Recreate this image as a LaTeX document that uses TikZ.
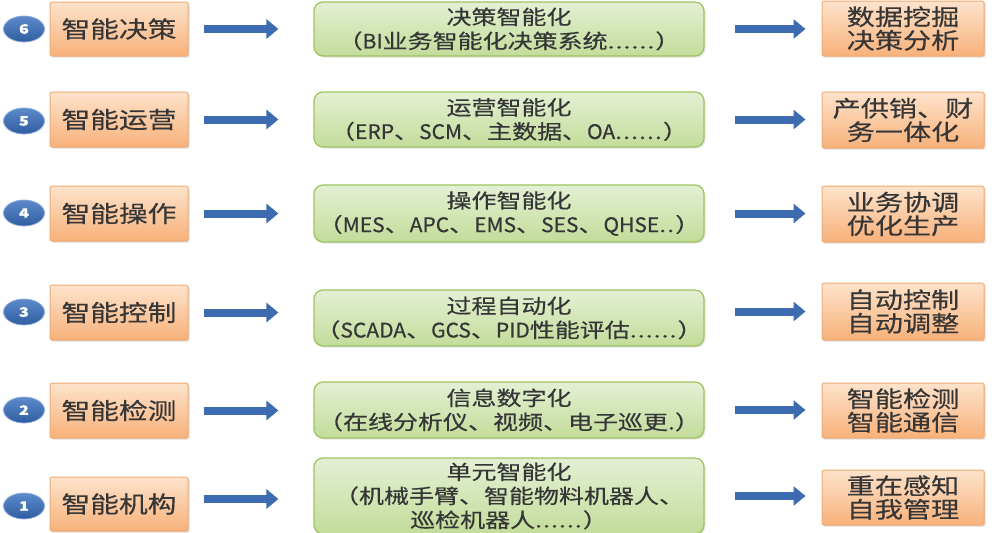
\documentclass[tikz,border=0pt]{standalone}
\usepackage{fontspec}
\setmainfont{Noto Sans CJK SC}[FakeStretch=1.25, FakeBold=0.4]
\newfontfamily\latf{Noto Sans CJK SC}[FakeStretch=1.05, FakeBold=0.6]
\newcommand\lt[1]{{\latf #1}}
\newcommand\dts[1]{\foreach \i in {1,...,#1}{.\kern1pt}}
\usetikzlibrary{arrows.meta,shadows,shapes.geometric}
\definecolor{oTop}{HTML}{FDE3CB}
\definecolor{oBot}{HTML}{F8B17A}
\definecolor{oBorder}{HTML}{EDAA72}
\definecolor{gTop}{HTML}{E4F0D4}
\definecolor{gBot}{HTML}{C3DC9A}
\definecolor{gBorder}{HTML}{9DC35E}
\definecolor{aBlue}{HTML}{3C6BB0}
\definecolor{cTop}{HTML}{5C8ACB}
\definecolor{cBot}{HTML}{2F5D9F}
\definecolor{txt}{HTML}{363636}
\begin{document}
\begin{tikzpicture}[x=1pt,y=-1pt,
  obox/.style={draw=oBorder, line width=1pt, top color=oTop, bottom color=oBot,
    rounded corners=1.5pt, inner sep=0pt, align=center, text=txt,
    drop shadow={opacity=0.25, shadow xshift=1.5pt, shadow yshift=-1.5pt}},
  lbox/.style={obox, minimum width=138pt, font={\fontsize{23}{23}\selectfont}},
  rbox/.style={obox, minimum width=162pt, font={\fontsize{22.5}{23.5}\selectfont}},
  gbox/.style={draw=gBorder, line width=1.2pt, top color=gTop, bottom color=gBot,
    rounded corners=9pt, inner sep=0pt, align=center, text=txt, minimum width=390pt,
    font={\fontsize{20}{24}\selectfont},
    drop shadow={opacity=0.2, shadow xshift=1.5pt, shadow yshift=-1.5pt}},
  num/.style={ellipse, draw=cTop!70!white, line width=0.8pt, top color=cTop, bottom color=cBot,
    minimum width=41pt, minimum height=26pt, inner sep=0pt, text=white,
    font={\fontsize{13}{13}\selectfont\bfseries}},
  arr/.style={draw=aBlue, line width=8pt, -{Triangle[length=12pt,width=19pt]}},
  larr/.style={arr, shorten <=15pt, shorten >=35pt},
  rarr/.style={arr, shorten <=30pt, shorten >=16pt}
]
\useasboundingbox (0,0) rectangle (1002,533);

% row 6
\node[num] (C6) at (24,29) {6};
\node[lbox, minimum height=54pt] (L6) at (119,29) {智能决策};
\node[gbox, minimum height=54pt] (G6) at (509,29) {决策智能化\\（\lt{BI}业务智能化决策系统\dts{6}）};
\node[rbox, minimum height=55pt] (R6) at (903,28.5) {数据挖掘\\决策分析};
% row 5
\node[num] (C5) at (24,121) {5};
\node[lbox, minimum height=55pt] (L5) at (119,119.5) {智能运营};
\node[gbox, minimum height=55pt] (G5) at (509,119.5) {运营智能化\\（\lt{ERP}、\lt{SCM}、主数据、\lt{OA}\dts{6}）};
\node[rbox, minimum height=56pt] (R5) at (903,120) {产供销、财\\务一体化};
% row 4
\node[num] (C4) at (24,213) {4};
\node[lbox, minimum height=55pt] (L4) at (119,213.5) {智能操作};
\node[gbox, minimum height=57pt] (G4) at (509,213.5) {操作智能化\\（\lt{MES}、\lt{APC}、\lt{EMS}、\lt{SES}、\lt{QHSE}\dts{2}）};
\node[rbox, minimum height=56pt] (R4) at (903,214) {业务协调\\优化生产};
% row 3
\node[num] (C3) at (24,312) {3};
\node[lbox, minimum height=55pt] (L3) at (119,312.5) {智能控制};
\node[gbox, minimum height=56pt] (G3) at (509,318) {过程自动化\\（\lt{SCADA}、\lt{GCS}、\lt{PID}性能评估\dts{6}）};
\node[rbox, minimum height=57pt] (R3) at (903,311.5) {自动控制\\自动调整};
% row 2
\node[num] (C2) at (24,410) {2};
\node[lbox, minimum height=55pt] (L2) at (119,410.5) {智能检测};
\node[gbox, minimum height=56pt] (G2) at (509,410) {信息数字化\\（在线分析仪、视频、电子巡更.）};
\node[rbox, minimum height=55pt] (R2) at (903,410.5) {智能检测\\智能通信};
% row 1
\node[num] (C1) at (24,506) {1};
\node[lbox, minimum height=54pt] (L1) at (119,504) {智能机构};
\node[gbox, minimum height=76pt] (G1) at (509,496) {单元智能化\\（机械手臂、智能物料机器人、\\巡检机器人\dts{6}）};
\node[rbox, minimum height=55pt] (R1) at (903,497.5) {重在感知\\自我管理};

% arrows
\foreach \r in {6,5,4,2} {
  \draw[larr] (L\r.east) -- (L\r.east -| G\r.west);
  \draw[rarr] (G\r.east) -- (G\r.east -| R\r.west);
}
\draw[larr] (L3.east) -- (L3.east -| G3.west);
\draw[rarr] (R3.west -| G3.east) -- (R3.west);
\draw[larr] (L1.east) ++(0,-5) coordinate (A1s) -- (A1s -| G1.west);
\draw[rarr] (G1.east) -- (G1.east -| R1.west);
\end{tikzpicture}
\end{document}
